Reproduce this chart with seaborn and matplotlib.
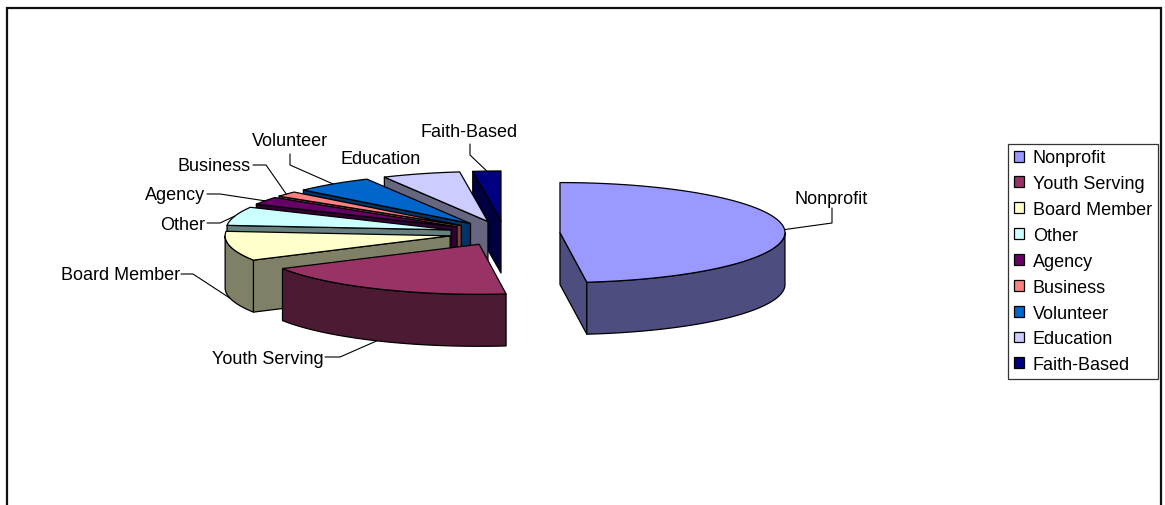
import numpy as np
import matplotlib
matplotlib.use("Agg")
import matplotlib.pyplot as plt
from matplotlib.patches import Patch
import seaborn as sns

categories = ["Nonprofit", "Youth Serving", "Board Member", "Other", "Agency",
              "Business", "Volunteer", "Education", "Faith-Based"]
shares = [48.0, 18.8, 9.5, 6.0, 2.5, 1.7, 5.7, 5.6, 2.0]
top_colors = ["#9999FF", "#993366", "#FFFFCC", "#CCFFFF", "#660066",
              "#FF8080", "#0066CC", "#CCCCFF", "#000080"]

sns.set_theme(style="white")
plt.rcParams["font.family"] = ["Liberation Sans", "DejaVu Sans"]
palette = sns.color_palette(top_colors)

W, H = 1165, 506
fig = plt.figure(figsize=(W / 100, H / 100), dpi=100, facecolor="white")
ax = fig.add_axes([0, 0, 1, 1])
ax.set_xlim(0, W)
ax.set_ylim(H, 0)
ax.axis("off")

# chart frame (the bottom edge is cropped off in the reference)
ax.plot([7, 7, 1161, 1161], [H, 9, 9, H], color="#111111", lw=1.6,
        solid_joinstyle="miter", zorder=1)

# pie geometry
CX, CY, RX, RY, DEPTH, EXPLODE = 504.5, 234.3, 225.0, 50.0, 52.0, 0.247
vals = np.asarray(shares, float)
edges = np.concatenate([[0], np.cumsum(vals) / vals.sum() * 360.0])


def rim(t_deg, ox, oy, dz=0.0):
    t = np.radians(t_deg)
    return ox + RX * np.sin(t), oy - RY * np.cos(t) + dz


def poly(xs, ys, color, z):
    ax.fill(xs, ys, facecolor=color, edgecolor="black", lw=0.9,
            joinstyle="round", zorder=z)


anchors = []
order = [8, 7, 6, 5, 4, 3, 2, 1, 0]
for z, i in enumerate(order):
    t0, t1 = edges[i], edges[i + 1]
    mid = (t0 + t1) / 2
    ox, oy = rim(mid, CX, CY)
    ox = CX + EXPLODE * (ox - CX)
    oy = CY + EXPLODE * (oy - CY)
    top = palette[i]
    side = tuple(c * 0.5 for c in top)
    zb = 10 + z * 3
    # cut faces
    if np.sin(np.radians(t0)) < -1e-6:
        x, y = rim(t0, ox, oy)
        poly([ox, x, x, ox], [oy, y, y + DEPTH, oy + DEPTH], side, zb)
    if 0 < t1 < 180:
        x, y = rim(t1, ox, oy)
        poly([ox, x, x, ox], [oy, y, y + DEPTH, oy + DEPTH], side, zb)
    # outer wall (front half only)
    a, b = max(t0, 90), min(t1, 270)
    if a < b:
        tt = np.linspace(a, b, 60)
        x, y = rim(tt, ox, oy)
        poly(np.r_[x, x[::-1]], np.r_[y, y[::-1] + DEPTH], side, zb + 1)
    # top
    tt = np.linspace(t0, t1, 80)
    x, y = rim(tt, ox, oy)
    poly(np.r_[ox, x], np.r_[oy, y], top, zb + 2)
    anchors.append((i, rim(mid, ox, oy, DEPTH if 90 < mid < 270 else 0.0)))

anchor = dict(anchors)

# label layout: text position, alignment, elbow of the leader line
FS = 13.0
labels = {
    0: ((795, 200), "left", (832, 224), (832, 209)),
    1: ((324, 359), "right", (340, 358), (325, 358)),
    2: ((180, 276), "right", (193, 275), (181, 275)),
    3: ((205, 225), "right", (220, 224), (207, 224)),
    4: ((205, 196), "right", (220, 195), (207, 195)),
    5: ((251, 166), "right", (266, 166), (253, 166)),
    6: ((252, 141), "left", (290, 166), (290, 155)),
    7: ((340, 159), "left", None, None),
    8: ((421, 132), "left", (470, 156), (470, 145)),
}
for i, (pos, ha, elbow, end) in labels.items():
    ax.text(pos[0], pos[1], categories[i], ha=ha, va="center", fontsize=FS,
            color="black", zorder=60)
    if elbow is not None:
        ax_, ay_ = anchor[i]
        ax.plot([ax_, elbow[0], end[0]], [ay_, elbow[1], end[1]], color="black",
                lw=0.8, zorder=59)

handles = [Patch(facecolor=palette[i], edgecolor="black", lw=0.9, label=categories[i])
           for i in range(len(categories))]
leg = ax.legend(handles=handles, loc="upper left", bbox_to_anchor=(1008 / W, 1 - 144.5 / H),
                bbox_transform=fig.transFigure, fontsize=FS, frameon=True, fancybox=False,
                framealpha=1, edgecolor="#333333", facecolor="white", borderaxespad=0,
                handlelength=0.55, handleheight=0.55, handletextpad=0.5,
                labelspacing=0.49, borderpad=0.33, labelcolor="black")
leg.get_frame().set_linewidth(0.9)
leg.set_zorder(70)

fig.savefig("out.png", dpi=100, facecolor="white")
